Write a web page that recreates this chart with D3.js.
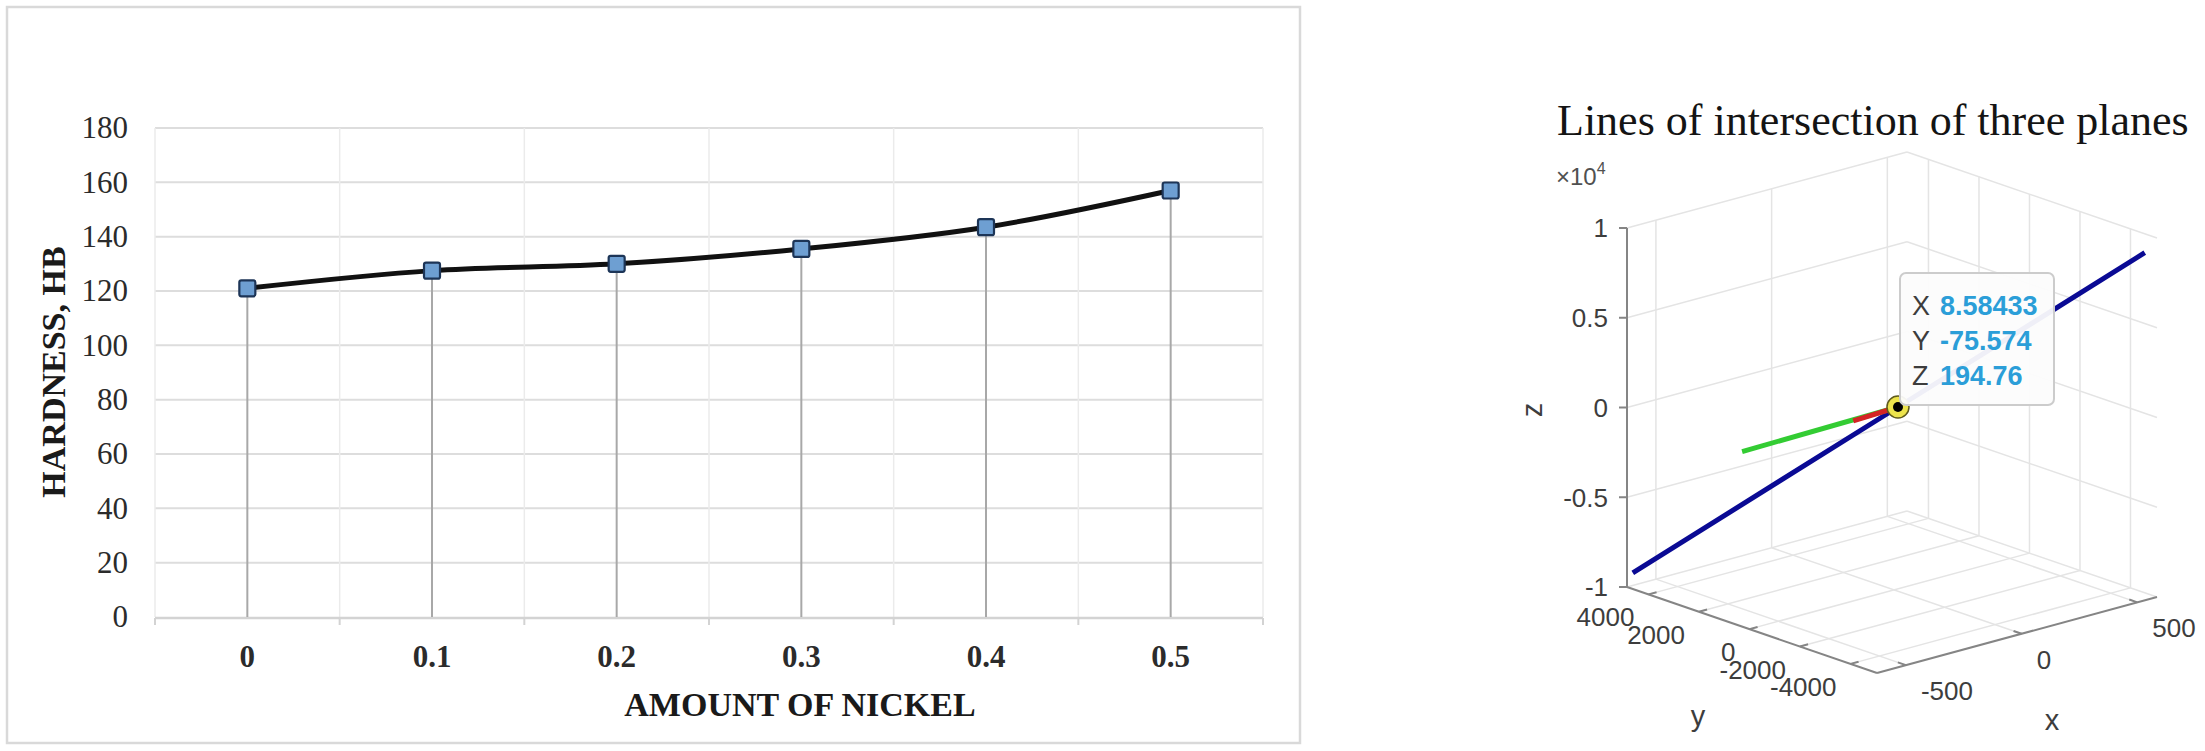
<!DOCTYPE html>
<html lang="en">
<head>
<meta charset="UTF-8">
<title>Hardness and lines of intersection</title>
<script src="https://cdn.jsdelivr.net/npm/d3@7"></script>
<style>
  body { margin: 0; background: #fff; }
  svg { display: block; }
</style>
</head>
<body>
<div id="chart-space"></div>
<script>
// ---- left panel: hardness vs nickel ----
var nickel = ["0", "0.1", "0.2", "0.3", "0.4", "0.5"];
var hardness = [121, 127.5, 130, 135.5, 143.5, 157];
var hardnessTicks = [0, 20, 40, 60, 80, 100, 120, 140, 160, 180];

// ---- right panel: 3D lines (matlab style) ----
var xTicks3 = [-500, 0, 500];
var yTicks3 = [4000, 2000, 0, -2000, -4000];
var zTicks3 = [-10000, -5000, 0, 5000, 10000];
var zTickLabels = ["-1", "-0.5", "0", "0.5", "1"];
var xLim3 = [-625, 585];
var yLim3 = [-5050, 4850];
var zLim3 = [-10000, 10000];
var blueX = [-600, 8.58433, 575], blueY = [4850, -75.574, -4657], blueZ = [-9300, 194.76, 9025];
var greenX = [-300, 8.58433], greenY = [3270, -75.574], greenZ = [-2830, 194.76];
var redX = [-100, 8.58433], redY = [700, -75.574], redZ = [-580, 194.76];
var tipPoint = [8.58433, -75.574, 194.76];
var tipNames = ["X", "Y", "Z"];
var tipLabels = ["8.58433", "-75.574", "194.76"];

var svg = d3.select("#chart-space").append("svg")
    .attr("width", 2205)
    .attr("height", 751);

// ================= left chart =================
var serif = "'Liberation Serif', 'Times New Roman', serif";
var left = svg.append("g");

left.append("rect")
    .attr("x", 7).attr("y", 7)
    .attr("width", 1293).attr("height", 736)
    .attr("fill", "none")
    .attr("stroke", "#d9d9d9")
    .attr("stroke-width", 2.5);

var xBand = d3.scaleBand().domain(nickel).range([155, 1263]);
var yScale = d3.scaleLinear().domain([0, 180]).range([617, 128]);
var cx = function(d) { return xBand(d) + xBand.bandwidth() / 2; };
var bounds = nickel.map(function(d) { return xBand(d); }).concat([xBand.range()[1]]);

// horizontal gridlines
left.selectAll(".hgrid")
    .data(hardnessTicks.slice(1))
    .join("line")
    .attr("x1", 155).attr("x2", 1263)
    .attr("y1", yScale).attr("y2", yScale)
    .attr("stroke", "#dddddd")
    .attr("stroke-width", 2);

// vertical gridlines at category boundaries
left.selectAll(".vgrid")
    .data(bounds)
    .join("line")
    .attr("x1", function(d) { return d; }).attr("x2", function(d) { return d; })
    .attr("y1", yScale(180)).attr("y2", yScale(0))
    .attr("stroke", "#ebebeb")
    .attr("stroke-width", 1.5);

// axis line + boundary ticks
left.append("line")
    .attr("x1", 155).attr("x2", 1263)
    .attr("y1", yScale(0) + 1).attr("y2", yScale(0) + 1)
    .attr("stroke", "#d3d3d3")
    .attr("stroke-width", 2.5);
left.selectAll(".btick")
    .data(bounds)
    .join("line")
    .attr("x1", function(d) { return d; }).attr("x2", function(d) { return d; })
    .attr("y1", yScale(0) + 1).attr("y2", yScale(0) + 8)
    .attr("stroke", "#d3d3d3")
    .attr("stroke-width", 2);

// drop lines
left.selectAll(".drop")
    .data(nickel)
    .join("line")
    .attr("x1", cx).attr("x2", cx)
    .attr("y1", function(d, i) { return yScale(hardness[i]); })
    .attr("y2", yScale(0))
    .attr("stroke", "#a8a8a8")
    .attr("stroke-width", 2);

// axes (labels only)
var yAxis = left.append("g")
    .attr("transform", "translate(155,0)")
    .call(d3.axisLeft(yScale).tickValues(hardnessTicks).tickSize(0).tickPadding(27))
    .call(function(g) { g.select(".domain").remove(); });
yAxis.selectAll("text")
    .style("font-family", serif)
    .style("font-size", "31px")
    .attr("fill", "#2b2b2b");

var xAxis = left.append("g")
    .attr("transform", "translate(0," + yScale(0) + ")")
    .call(d3.axisBottom(xBand).tickSize(0).tickPadding(28))
    .call(function(g) { g.select(".domain").remove(); });
xAxis.selectAll("text")
    .style("font-family", serif)
    .style("font-size", "31px")
    .style("font-weight", "bold")
    .attr("fill", "#2b2b2b");

// smoothed line
var line = d3.line()
    .x(function(d, i) { return cx(nickel[i]); })
    .y(function(d) { return yScale(d); })
    .curve(d3.curveCatmullRom.alpha(0.5));

left.append("path")
    .datum(hardness)
    .attr("d", line)
    .attr("fill", "none")
    .attr("stroke", "#111111")
    .attr("stroke-width", 5);

left.selectAll(".marker")
    .data(hardness)
    .join("rect")
    .attr("x", function(d, i) { return cx(nickel[i]) - 8; })
    .attr("y", function(d) { return yScale(d) - 8; })
    .attr("width", 16).attr("height", 16)
    .attr("rx", 2)
    .attr("fill", "#6e9fd2")
    .attr("stroke", "#1d3557")
    .attr("stroke-width", 2.2);

// titles
left.append("text")
    .attr("x", 800).attr("y", 716)
    .attr("text-anchor", "middle")
    .style("font-family", serif)
    .style("font-size", "34px")
    .style("font-weight", "bold")
    .attr("fill", "#1a1a1a")
    .text("AMOUNT OF NICKEL");

left.append("text")
    .attr("transform", "translate(65,372) rotate(-90)")
    .attr("text-anchor", "middle")
    .style("font-family", serif)
    .style("font-size", "34px")
    .style("font-weight", "bold")
    .attr("fill", "#1a1a1a")
    .text("HARDNESS, HB");

// ================= right chart (3D) =================
var sans = "'Liberation Sans', Arial, Helvetica, sans-serif";
var right = svg.append("g");

// screen geometry of the axes box (corner at xmin, ymin, zmin)
var box3 = {ox: 1877, oy: 673, xdx: 280, xdy: -76, ydx: -250, ydy: -86, zh: 359};
var fx = d3.scaleLinear().domain(xLim3).range([0, 1]);
var fy = d3.scaleLinear().domain(yLim3).range([0, 1]);
var fz = d3.scaleLinear().domain(zLim3).range([0, 1]);

function proj(x, y, z) {
    var a = fx(x), b = fy(y), c = fz(z);
    return [box3.ox + a * box3.xdx + b * box3.ydx,
            box3.oy + a * box3.xdy + b * box3.ydy - c * box3.zh];
}

var xmin = xLim3[0], xmax = xLim3[1];
var ymin = yLim3[0], ymax = yLim3[1];
var zmin = zLim3[0], zmax = zLim3[1];

// gridlines on floor and back walls
var grid = [];
xTicks3.forEach(function(x) {
    grid.push([proj(x, ymin, zmin), proj(x, ymax, zmin)]);
    grid.push([proj(x, ymax, zmin), proj(x, ymax, zmax)]);
});
yTicks3.forEach(function(y) {
    grid.push([proj(xmin, y, zmin), proj(xmax, y, zmin)]);
    grid.push([proj(xmax, y, zmin), proj(xmax, y, zmax)]);
});
zTicks3.forEach(function(z) {
    grid.push([proj(xmin, ymax, z), proj(xmax, ymax, z)]);
    grid.push([proj(xmax, ymax, z), proj(xmax, ymin, z)]);
});

right.selectAll(".grid3")
    .data(grid)
    .join("line")
    .attr("x1", function(d) { return d[0][0]; }).attr("y1", function(d) { return d[0][1]; })
    .attr("x2", function(d) { return d[1][0]; }).attr("y2", function(d) { return d[1][1]; })
    .attr("stroke", "#e4e4e4")
    .attr("stroke-width", 1.5);

// axis lines
var axisCol = "#858585";
var axes3 = [
    [proj(xmin, ymax, zmin), proj(xmin, ymax, zmax)],
    [proj(xmin, ymax, zmin), proj(xmin, ymin, zmin)],
    [proj(xmin, ymin, zmin), proj(xmax, ymin, zmin)]
];
right.selectAll(".axis3")
    .data(axes3)
    .join("line")
    .attr("x1", function(d) { return d[0][0]; }).attr("y1", function(d) { return d[0][1]; })
    .attr("x2", function(d) { return d[1][0]; }).attr("y2", function(d) { return d[1][1]; })
    .attr("stroke", axisCol)
    .attr("stroke-width", 2);

var tickFont = "26px";
var tickCol = "#3d3d3d";

// z ticks + labels
zTicks3.forEach(function(z, i) {
    var p = proj(xmin, ymax, z);
    right.append("line")
        .attr("x1", p[0] - 8).attr("x2", p[0])
        .attr("y1", p[1]).attr("y2", p[1])
        .attr("stroke", axisCol).attr("stroke-width", 2);
    right.append("text")
        .attr("x", p[0] - 19).attr("y", p[1])
        .attr("dy", "0.36em")
        .attr("text-anchor", "end")
        .style("font-family", sans).style("font-size", tickFont)
        .attr("fill", tickCol)
        .text(zTickLabels[i]);
});

// y ticks + labels (overlapping like the original)
yTicks3.forEach(function(y) {
    var p = proj(xmin, y, zmin), q = proj(xmin + 35, y, zmin);
    right.append("line")
        .attr("x1", p[0]).attr("y1", p[1]).attr("x2", q[0]).attr("y2", q[1])
        .attr("stroke", axisCol).attr("stroke-width", 2);
    right.append("text")
        .attr("x", p[0] - 14).attr("y", p[1] + 32)
        .attr("text-anchor", "end")
        .style("font-family", sans).style("font-size", tickFont)
        .attr("fill", tickCol)
        .text(y);
});

// x ticks + labels
xTicks3.forEach(function(x) {
    var p = proj(x, ymin, zmin), q = proj(x, ymin + 320, zmin);
    right.append("line")
        .attr("x1", p[0]).attr("y1", p[1]).attr("x2", q[0]).attr("y2", q[1])
        .attr("stroke", axisCol).attr("stroke-width", 2);
    right.append("text")
        .attr("x", p[0] + 15).attr("y", p[1] + 35)
        .attr("text-anchor", "start")
        .style("font-family", sans).style("font-size", tickFont)
        .attr("fill", tickCol)
        .text(x);
});

// axis labels
right.append("text")
    .attr("x", 2052).attr("y", 730)
    .attr("text-anchor", "middle")
    .style("font-family", sans).style("font-size", "29px")
    .attr("fill", tickCol)
    .text("x");
right.append("text")
    .attr("x", 1698).attr("y", 726)
    .attr("text-anchor", "middle")
    .style("font-family", sans).style("font-size", "29px")
    .attr("fill", tickCol)
    .text("y");
right.append("text")
    .attr("transform", "translate(1542,410) rotate(-90)")
    .attr("text-anchor", "middle")
    .style("font-family", sans).style("font-size", "29px")
    .attr("fill", tickCol)
    .text("z");

// exponent
var expo = right.append("text")
    .attr("x", 1556).attr("y", 185)
    .style("font-family", sans).style("font-size", "24px")
    .attr("fill", "#505050");
expo.append("tspan").text("\u00d710");
expo.append("tspan").attr("dy", -11).style("font-size", "16px").text("4");

// title
right.append("text")
    .attr("x", 1557).attr("y", 135)
    .style("font-family", serif)
    .style("font-size", "44px")
    .attr("fill", "#141414")
    .text("Lines of intersection of three planes");

// data lines
var line3 = d3.line();
function pts(xs, ys, zs) {
    return xs.map(function(x, i) { return proj(x, ys[i], zs[i]); });
}
right.append("path")
    .attr("d", line3(pts(blueX, blueY, blueZ)))
    .attr("fill", "none").attr("stroke", "#0a0a94").attr("stroke-width", 5);
right.append("path")
    .attr("d", line3(pts(greenX, greenY, greenZ)))
    .attr("fill", "none").attr("stroke", "#33cc33").attr("stroke-width", 5);
right.append("path")
    .attr("d", line3(pts(redX, redY, redZ)))
    .attr("fill", "none").attr("stroke", "#d42424").attr("stroke-width", 5);

// datatip marker
var tp = proj(tipPoint[0], tipPoint[1], tipPoint[2]);
right.append("circle")
    .attr("cx", tp[0]).attr("cy", tp[1]).attr("r", 11)
    .attr("fill", "#ede44c").attr("stroke", "#5e5a1c").attr("stroke-width", 1.5);
right.append("circle")
    .attr("cx", tp[0]).attr("cy", tp[1]).attr("r", 5)
    .attr("fill", "#000");

// datatip box
var tip = right.append("g").attr("transform", "translate(" + (tp[0] + 2) + "," + (tp[1] - 134) + ")");
tip.append("rect")
    .attr("width", 154).attr("height", 132).attr("rx", 6)
    .attr("fill", "rgba(252,252,252,0.95)")
    .attr("stroke", "#cccccc").attr("stroke-width", 2);
tipNames.forEach(function(n, i) {
    var t = tip.append("text")
        .attr("x", 12).attr("y", 42 + i * 35)
        .style("font-family", sans).style("font-size", "27px");
    t.append("tspan").attr("fill", "#3d3d3d").text(n + " ");
    t.append("tspan").attr("x", 40).attr("fill", "#2b9ed8").style("font-weight", "bold").text(tipLabels[i]);
});
</script>
</body>
</html>
